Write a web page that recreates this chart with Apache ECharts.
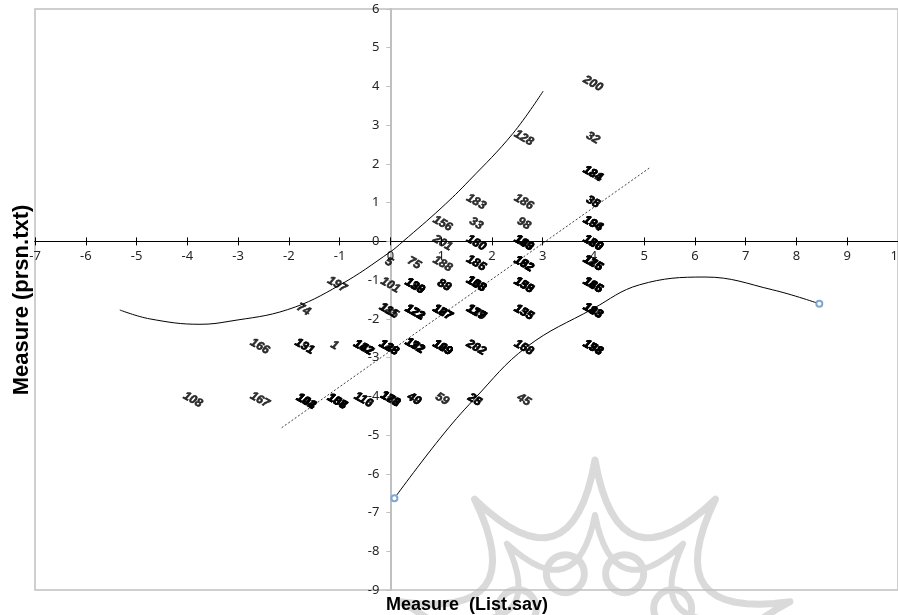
<!DOCTYPE html>
<html>
<head>
<meta charset="utf-8">
<script src="https://cdn.jsdelivr.net/npm/echarts@6/dist/echarts.min.js"></script>
<style>
  html, body { margin: 0; padding: 0; background: #ffffff; }
  #chart { width: 898px; height: 615px; }
</style>
</head>
<body>
<div id="chart"></div>
<script>
// Axis ranges (logits)
const xRange = [-7, 10];
const yRange = [-9, 6];

// Person positions: measure on List.sav (x), measure on prsn.txt (y), and the person ids at that spot
const cellX = [
  3.99, 2.63, 3.99, 3.99,
  1.69, 2.63, 3.99,
  1.03, 1.69, 2.63, 3.99,
  1.03, 1.69, 2.63, 3.99,
  -0.03, 0.47, 1.03, 1.69, 2.63, 3.99,
  -1.05, 0.0, 0.48, 1.06, 1.69, 2.63, 3.99,
  -1.71, -0.03, 0.48, 1.03, 1.69, 2.63, 3.99,
  -2.57, -1.69, -1.1, -0.53, -0.03, 0.48, 1.03, 1.69, 2.63, 3.99,
  -3.89, -2.57, -1.66, -1.05, -0.53, 0.0, 0.47, 1.02, 1.66, 2.63
];
const cellY = [
  4.07, 2.67, 2.67, 1.75,
  1.02, 1.02, 1.02,
  0.46, 0.46, 0.46, 0.46,
  -0.04, -0.04, -0.04, -0.04,
  -0.53, -0.56, -0.58, -0.56, -0.58, -0.56,
  -1.11, -1.13, -1.15, -1.13, -1.10, -1.13, -1.13,
  -1.76, -1.79, -1.83, -1.83, -1.83, -1.83, -1.79,
  -2.71, -2.71, -2.68, -2.74, -2.74, -2.69, -2.74, -2.74, -2.74, -2.74,
  -4.09, -4.09, -4.13, -4.13, -4.09, -4.07, -4.07, -4.07, -4.09, -4.09
];
const cellIds = [
  ["200"], ["128"], ["32"], ["124", "181", "184"],
  ["183"], ["186"], ["35", "38"],
  ["156"], ["33"], ["98"], ["136", "194", "164"],
  ["201"], ["160", "180"], ["119", "140", "193", "143"], ["120", "130", "163", "180"],
  ["5"], ["75"], ["188"], ["185", "186"], ["162", "182", "192", "152"], ["125", "145", "176", "115"],
  ["197"], ["101"], ["129", "139", "190", "138"], ["88", "89"], ["103", "118", "158", "108"], ["135", "153", "159", "138"], ["115", "146", "165", "186"],
  ["74"], ["111", "185"], ["121", "122", "172", "123"], ["107", "127", "177", "187"], ["117", "137", "179", "119"], ["133", "155", "135"], ["113", "143", "183", "196"],
  ["166"], ["131", "191"], ["1"], ["142", "147", "152", "122"], ["123", "126", "138", "148"], ["112", "132", "171", "192"], ["109", "149", "199", "129"], ["202", "282"], ["150", "168"], ["154", "178", "198", "138"],
  ["108"], ["167"], ["102", "104", "144", "122"], ["105", "134", "157", "188"], ["110", "116"], ["161", "170", "173", "128"], ["40", "49"], ["59"], ["25", "28"], ["45"]
];

// Upper 95% control curve
const upperBandX = [-5.33, -4.74, -3.75, -3.16, -2.02, -1.0, 0.0, 0.25, 1.0, 1.56, 2.41, 3.01];
const upperBandY = [-1.77, -2.0, -2.14, -2.06, -1.76, -1.13, -0.27, 0.0, 0.86, 1.58, 2.78, 3.88];

// Lower 95% control curve
const lowerBandX = [0.08, 0.97, 1.66, 2.68, 3.99, 4.91, 6.2, 7.53, 8.45];
const lowerBandY = [-6.63, -5.1, -4.06, -2.73, -1.74, -1.12, -0.92, -1.25, -1.61];

// Empirical identity line
const identityX = [-2.14, 5.13];
const identityY = [-4.81, 1.92];

const pairs = (xs, ys) => xs.map((x, i) => [x, ys[i]]);

const personPoints = [];
cellIds.forEach((ids, i) => {
  ids.forEach(id => personPoints.push({ name: id, value: [cellX[i], cellY[i]] }));
});

const lowerPoints = pairs(lowerBandX, lowerBandY).map((p, i, arr) =>
  (i === 0 || i === arr.length - 1)
    ? { value: p, symbol: 'emptyCircle', symbolSize: 6 }
    : { value: p, symbol: 'none' }
);

// Plot box in pixels; the axes cross at (0, 0) inside it
const W = 898, H = 615;
const box = { left: 35, right: 0, top: 9, bottom: 25 };
const plotW = W - box.left - box.right, plotH = H - box.top - box.bottom;
const yAxisShift = plotW * (0 - xRange[0]) / (xRange[1] - xRange[0]);
const xAxisShift = plotH * (0 - yRange[0]) / (yRange[1] - yRange[0]);

// Background emblem: concave ten-point star outlines with a ring of circles
function concaveStar(cx, cy, R, rc, n, startDeg) {
  const pts = [];
  const pt = (r, deg) => [cx + r * Math.cos(deg * Math.PI / 180), cy + r * Math.sin(deg * Math.PI / 180)];
  for (let i = 0; i < n; i++) {
    const p0 = pt(R, startDeg + i * 360 / n);
    const q = pt(rc, startDeg + (i + 0.5) * 360 / n);
    const p1 = pt(R, startDeg + (i + 1) * 360 / n);
    for (let s = 0; s < 16; s++) {
      const t = s / 16, u = 1 - t;
      pts.push([u * u * p0[0] + 2 * u * t * q[0] + t * t * p1[0],
                u * u * p0[1] + 2 * u * t * q[1] + t * t * p1[1]]);
    }
  }
  return pts;
}
const emblemCx = 595, emblemCy = 665;
const emblemColor = '#dadada';
const emblem = [
  { type: 'polygon', z: -10, shape: { points: concaveStar(emblemCx, emblemCy, 205, 76, 10, -90) },
    style: { fill: 'none', stroke: emblemColor, lineWidth: 7, lineJoin: 'round' } },
  { type: 'polygon', z: -10, shape: { points: concaveStar(emblemCx, emblemCy, 150, 60, 10, -90) },
    style: { fill: 'none', stroke: emblemColor, lineWidth: 6, lineJoin: 'round' } }
];
for (let k = 0; k < 10; k++) {
  const a = (-108 + k * 36) * Math.PI / 180;
  emblem.push({ type: 'circle', z: -10,
    shape: { cx: emblemCx + 96 * Math.cos(a), cy: emblemCy + 96 * Math.sin(a), r: 19 },
    style: { fill: 'none', stroke: emblemColor, lineWidth: 7 } });
}

const chart = echarts.init(document.getElementById('chart'), null, { renderer: 'canvas' });

const tickFont = { color: '#262626', fontSize: 13, fontFamily: 'Noto Sans' };

chart.setOption({
  animation: false,
  backgroundColor: '#ffffff',
  grid: { left: box.left, right: box.right, top: box.top, bottom: box.bottom, outerBoundsMode: 'none', containLabel: false,
    show: true, borderColor: '#c0c0c0', borderWidth: 1.5, backgroundColor: 'transparent' },
  xAxis: [
    { type: 'value', min: xRange[0], max: xRange[1], interval: 1, position: 'bottom', offset: -xAxisShift,
      axisLine: { onZero: false, lineStyle: { color: '#000000', width: 1 } },
      axisTick: { show: true, length: 4, lineStyle: { color: '#000000' } },
      axisLabel: Object.assign({ margin: 8, showMinLabel: true, showMaxLabel: true }, tickFont),
      splitLine: { show: false } },
    { type: 'value', min: xRange[0], max: xRange[1], interval: 1, position: 'bottom', offset: -xAxisShift,
      axisLine: { onZero: false, lineStyle: { color: '#000000', width: 1 } },
      axisTick: { show: true, inside: true, length: 4, lineStyle: { color: '#000000' } },
      axisLabel: { show: false },
      splitLine: { show: false } }
  ],
  yAxis: {
    type: 'value', min: yRange[0], max: yRange[1], interval: 1, position: 'left', offset: -yAxisShift,
    axisLine: { onZero: false, lineStyle: { color: '#c0c0c0', width: 2 } },
    axisTick: { show: true, length: 4, lineStyle: { color: '#c0c0c0' } },
    axisLabel: Object.assign({ margin: 11, showMinLabel: true, showMaxLabel: true }, tickFont),
    splitLine: { show: false }
  },
  graphic: emblem.concat([
    { type: 'text', x: 22, y: 300, rotation: Math.PI / 2, z: 10,
      style: { text: 'Measure (prsn.txt)', font: 'bold 22px "Liberation Sans"', fill: '#000000', align: 'center', verticalAlign: 'middle' } },
    { type: 'text', x: 467, y: 605, z: 10,
      style: { text: 'Measure  (List.sav)', font: 'bold 18px "Liberation Sans"', fill: '#000000', align: 'center', verticalAlign: 'middle' } }
  ]),
  series: [
    { type: 'line', name: 'upper', data: pairs(upperBandX, upperBandY), smooth: 0.4, symbol: 'none',
      lineStyle: { color: '#000000', width: 1 }, silent: true },
    { type: 'line', name: 'lower', data: lowerPoints, smooth: 0.4, showAllSymbol: true,
      itemStyle: { color: '#7fa7d4', borderWidth: 1 },
      lineStyle: { color: '#000000', width: 1 }, silent: true },
    { type: 'line', name: 'identity', data: pairs(identityX, identityY), symbol: 'none',
      lineStyle: { color: '#404040', width: 1, type: [2, 2] }, silent: true },
    { type: 'scatter', name: 'persons', data: personPoints, symbolSize: 1,
      itemStyle: { color: 'rgba(0,0,0,0)' },
      label: { show: true, position: 'inside', formatter: p => p.name, rotate: -30,
        fontSize: 12, fontWeight: 'bold', fontStyle: 'italic', fontFamily: 'Liberation Sans', color: '#000000',
        textBorderColor: '#000000', textBorderWidth: 0.6 },
      labelLayout: { hideOverlap: false }, silent: true, z: 5 }
  ]
});
</script>
</body>
</html>
